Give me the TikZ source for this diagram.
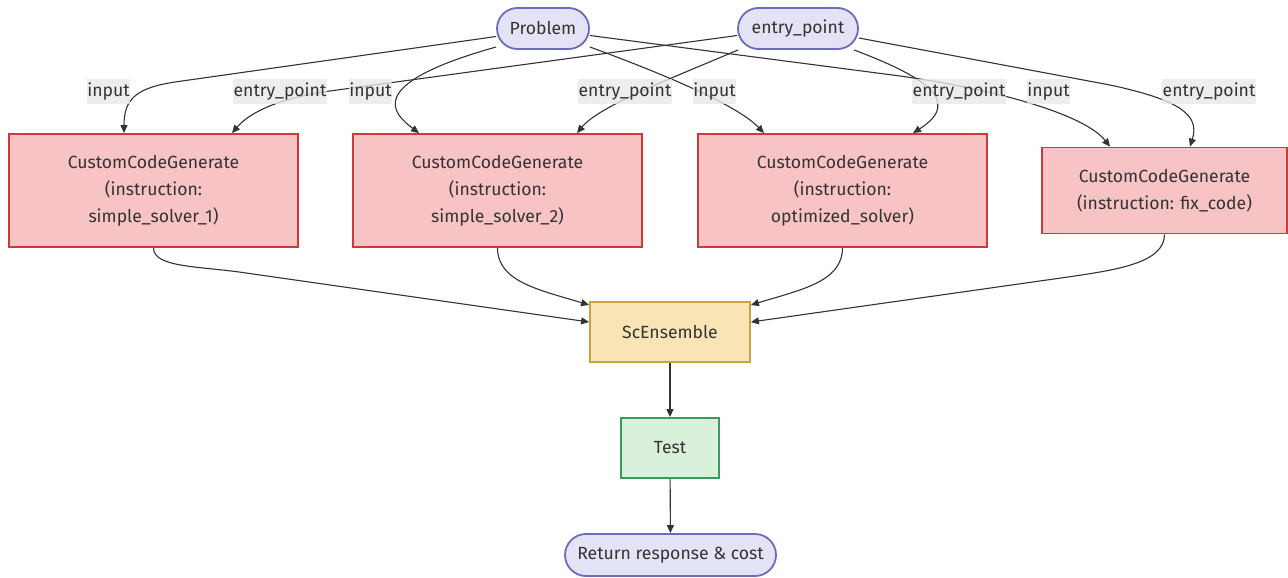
\documentclass[tikz,border=0pt]{standalone}
\usepackage{fontspec}
\setmainfont{Fira Sans}
\usetikzlibrary{arrows.meta,calc,backgrounds}
\definecolor{txt}{HTML}{333333}
\definecolor{termfill}{HTML}{E4E3F5}
\definecolor{termdraw}{HTML}{6B6BC0}
\definecolor{genfill}{HTML}{F8C3C4}
\definecolor{gendraw}{HTML}{CC3A3A}
\definecolor{ensfill}{HTML}{F9E4B6}
\definecolor{ensdraw}{HTML}{C9A43A}
\definecolor{testfill}{HTML}{D9F0DA}
\definecolor{testdraw}{HTML}{3B9A5C}
\definecolor{lblgray}{HTML}{E8E8E8}
\begin{document}
\begin{tikzpicture}[x=1pt,y=-1pt,
  every node/.style={text=txt, font=\fontsize{17.6}{27}\selectfont},
  term/.style={draw=termdraw, fill=termfill, line width=1.8pt, rounded corners=20.5pt, minimum height=41pt, inner sep=0pt},
  gen/.style={draw=gendraw, fill=genfill, line width=1.8pt, minimum width=289pt, minimum height=113pt, align=center, inner sep=0pt},
  boxn/.style={line width=1.8pt, inner sep=0pt},
  lbl/.style={fill=lblgray, fill opacity=0.8, text opacity=1, inner xsep=0.5pt, inner ysep=0pt, minimum height=25pt, text height=13pt, text depth=4pt},
  edge/.style={draw=txt, line width=1.1pt, -{Triangle[length=8pt,width=7pt]}}
]
\useasboundingbox (0,0) rectangle (1288,578);

\node[term, minimum width=92pt] (pb) at (543,28.5) {Problem};
\node[term, minimum width=120pt] (ep) at (798,28.5) {entry\_point};

\node[gen] (c1) at (153.5,190.5) {CustomCodeGenerate\\(instruction:\\simple\_solver\_1)};
\node[gen] (c2) at (497.5,190.5) {CustomCodeGenerate\\(instruction:\\simple\_solver\_2)};
\node[gen] (c3) at (842.5,190.5) {CustomCodeGenerate\\(instruction:\\optimized\_solver)};
\node[gen, minimum width=245pt, minimum height=86pt] (c4) at (1164.5,190.5) {CustomCodeGenerate\\(instruction: fix\_code)};

\node[boxn, draw=ensdraw, fill=ensfill, minimum width=160pt, minimum height=60pt] (sc) at (670,332) {ScEnsemble};
\node[boxn, draw=testdraw, fill=testfill, minimum width=98pt, minimum height=60pt] (ts) at (670,448) {Test};
\node[term, minimum width=211pt, minimum height=42pt, rounded corners=21pt] (rt) at (670.5,555) {Return response \& cost};

\begin{scope}[on background layer]
\draw[edge] ($(pb.west)+(0,8)$) -- (175,82) .. controls (135,88) and (124,100) .. ($(c1.north)+(-29.5,0)$);
\draw[edge] ($(pb.west)+(0,18.5)$) .. controls (360,85) and (395,115) .. ($(c2.north)+(-78.5,0)$);
\draw[edge] ($(ep.west)+(0,7)$) -- (330,91) .. controls (280,98) and (250,112) .. ($(c1.north)+(78.5,0)$);
\draw[edge] ($(ep.south west)+(1,0)$) .. controls (680,75) and (600,105) .. ($(c2.north)+(79.5,0)$);
\draw[edge] ($(pb.east)+(0,18.5)$) .. controls (680,80) and (740,108) .. ($(c3.north)+(-78.5,0)$);
\draw[edge] ($(ep.south east)+(-5,0)$) .. controls (920,75) and (965,100) .. ($(c3.north)+(70.5,0)$);
\draw[edge] ($(pb.east)+(0,7)$) -- (900,76) .. controls (1000,90) and (1085,115) .. ($(c4.north)+(-54.5,0)$);
\draw[edge] ($(ep.east)+(0,9.5)$) -- (1110,85) .. controls (1180,100) and (1200,115) .. ($(c4.north)+(25.5,0)$);

\draw[edge] (c1.south) .. controls +(0,20) and (200,266) .. (246,273) -- ($(sc.west)+(0,-10)$);
\draw[edge] (c2.south) .. controls +(0,34) and (540,290) .. ($(sc.west)+(0,-27)$);
\draw[edge] (c3.south) .. controls +(0,34) and (800,290) .. ($(sc.east)+(0,-27)$);
\draw[edge] (c4.south) .. controls +(0,29) and (1115,270) .. (1068,277) -- ($(sc.east)+(0,-10)$);
\draw[edge] (sc) -- (ts);
\draw[edge] (ts) -- (rt);
\end{scope}

\node[lbl] (l1) at (108.5,91.5) {input};
\node[lbl] (l2) at (280,91.5) {entry\_point};
\node[lbl] (l3) at (370.5,91.5) {input};
\node[lbl] (l4) at (625,91.5) {entry\_point};
\node[lbl] (l5) at (714.5,91.5) {input};
\node[lbl] (l6) at (959,91.5) {entry\_point};
\node[lbl] (l7) at (1048.5,91.5) {input};
\node[lbl] (l8) at (1209,91.5) {entry\_point};
\end{tikzpicture}
\end{document}
